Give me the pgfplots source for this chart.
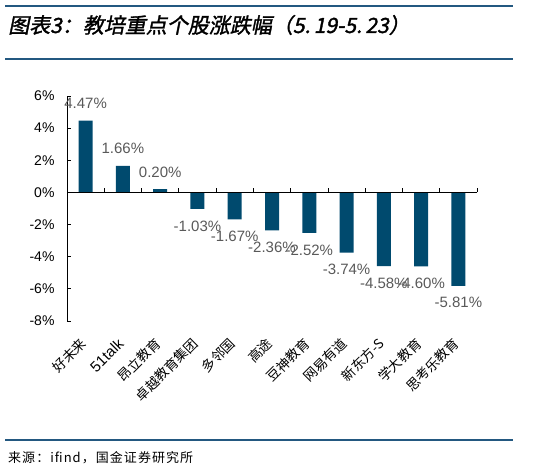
\documentclass[border=0pt]{standalone}
\usepackage{pgfplots}
\pgfplotsset{compat=1.18}
\usepackage{fontspec}
\setmainfont{Liberation Sans}
\newfontfamily\cjk{Noto Sans CJK SC}
\newfontfamily\cjksrc[LetterSpace=8]{Noto Sans CJK SC}
\newfontfamily\cjktitle[FakeSlant=0.2,FakeBold=1.5]{Noto Sans CJK SC}

\definecolor{barblue}{HTML}{004A6E}
\definecolor{rulecol}{RGB}{35,88,128}
\definecolor{labgray}{HTML}{595959}

\begin{document}
\begin{tikzpicture}[x=1pt,y=1pt]
  \useasboundingbox (0,0) rectangle (541,471);
  % frame lines and texts
  \draw[rulecol, line width=2pt] (5,465) -- (513,465);
  \draw[rulecol, line width=2pt] (5,412) -- (513,412);
  \draw[rulecol, line width=1.2pt] (5,31) -- (513,31);
  \node[anchor=base west, inner sep=0pt] at (8,438)
    {\cjktitle\fontsize{21}{23}\selectfont 图表3：教培重点个股涨跌幅（5.\,19-5.\,23）};
  \node[anchor=base west, inner sep=0pt] at (8,8)
    {\cjksrc\fontsize{13}{15}\selectfont 来源：ifind，国金证券研究所};

  \begin{axis}[
    at={(67pt,150pt)}, anchor=south west,
    scale only axis, width=410pt, height=225pt,
    ybar, bar width=14pt,
    xmin=-0.5, xmax=10.5,
    ymin=-8, ymax=6,
    ytick={-8,-6,...,6},
    axis y line*=left,
    axis x line*=bottom,
    x axis line style={draw=none},
    xtick={0,...,10},
    xtick style={draw=none},
    ytick align=inside,
    major tick length=4pt,
    y axis line style={black, line width=0.8pt},
    ytick style={black, line width=0.8pt},
    /pgf/number format/assume math mode=true,
    yticklabel={\pgfmathprintnumber{\tick}\%},
    yticklabel style={font=\fontsize{14}{14}\selectfont, xshift=-9pt},
    xticklabels={
      {\cjk 好未来},
      {\fontsize{15}{15}\selectfont 51talk},
      {\cjk 昂立教育},
      {\cjk 卓越教育集团},
      {\cjk 多邻国},
      {\cjk 高途},
      {\cjk 豆神教育},
      {\cjk 网易有道},
      {\cjk 新东方-S},
      {\cjk 学大教育},
      {\cjk 思考乐教育}},
    xticklabel style={yshift=-16pt, xshift=-2pt, rotate=45, anchor=east,
      inner sep=0pt, font=\fontsize{13.5}{14}\selectfont},
    nodes near coords={\pgfmathprintnumber[fixed,fixed zerofill,precision=2]{\pgfplotspointmeta}\%},
    every node near coord/.append style={font=\fontsize{15}{15}\selectfont,
      text=labgray, inner sep=11.5pt},
    clip=false,
  ]
    \addplot[fill=barblue, draw=none] coordinates {
      (0,4.47) (1,1.66) (2,0.20) (3,-1.03) (4,-1.67) (5,-2.36)
      (6,-2.52) (7,-3.74) (8,-4.58) (9,-4.60) (10,-5.81)
    };
    \draw[black, line width=0.8pt] (axis cs:-0.5,0) -- (axis cs:10.5,0);
    \pgfplotsinvokeforeach{0.5,1.5,...,10.5}{
      \draw[black, line width=0.8pt] (axis cs:#1,0) -- ([yshift=4pt]axis cs:#1,0);
    }
  \end{axis}
\end{tikzpicture}
\end{document}
